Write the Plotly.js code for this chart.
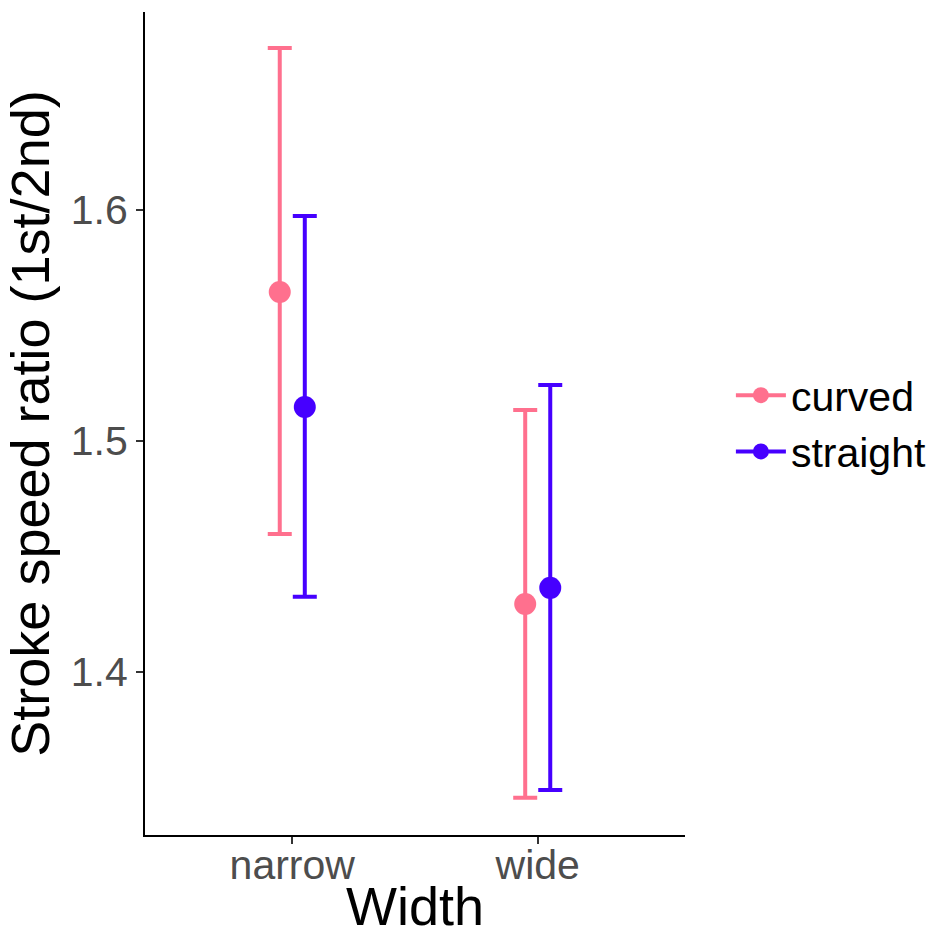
<!DOCTYPE html>
<html>
<head>
<meta charset="utf-8">
<script src="https://cdn.plot.ly/plotly-3.0.1.min.js"></script>
<style>html,body{margin:0;padding:0;background:#fff;}#chart{width:936px;height:936px;}</style>
</head>
<body>
<div id="chart"></div>
<script>
const categories = ["narrow", "wide"];
const groups = ["curved", "straight"];
const curvedMean = [1.5645, 1.4294];
const curvedUpper = [1.6701, 1.5134];
const curvedLower = [1.4597, 1.3455];
const straightMean = [1.5147, 1.4364];
const straightUpper = [1.5974, 1.5242];
const straightLower = [1.4325, 1.3489];
const colors = ["#FF708E", "#4600FF"];
const dodge = [-0.051, 0.051];

const series = [
  {mean: curvedMean, upper: curvedUpper, lower: curvedLower},
  {mean: straightMean, upper: straightUpper, lower: straightLower}
];

const traces = [];
series.forEach((s, i) => {
  traces.push({
    type: "scatter", mode: "markers",
    x: categories.map((c, j) => j + dodge[i]),
    y: s.mean,
    marker: {color: colors[i], size: 22},
    error_y: {
      type: "data", symmetric: false,
      array: s.upper.map((u, j) => u - s.mean[j]),
      arrayminus: s.mean.map((m, j) => m - s.lower[j]),
      color: colors[i], thickness: 4, width: 12
    },
    showlegend: false, hoverinfo: "skip"
  });
});
groups.forEach((g, i) => {
  traces.push({
    type: "scatter", mode: "lines+markers", name: g,
    x: [null], y: [null],
    marker: {color: colors[i], size: 22},
    line: {color: colors[i], width: 4}
  });
});

const layout = {
  width: 936, height: 936,
  margin: {l: 145, r: 251, t: 12, b: 101, autoexpand: false},
  paper_bgcolor: "#fff", plot_bgcolor: "#fff",
  font: {family: "Liberation Sans, Arial, sans-serif"},
  xaxis: {
    range: [-0.6, 1.6],
    tickmode: "array", tickvals: [0, 1], ticktext: categories,
    showgrid: false, zeroline: false,
    showline: true, linecolor: "#000", linewidth: 2,
    ticks: "outside", ticklen: 7, tickwidth: 2, tickcolor: "#333",
    tickfont: {size: 41, color: "#4D4D4D"},
    ticklabelstandoff: -14,
    title: {text: "Width", font: {size: 54, color: "#000"}, standoff: 8}
  },
  yaxis: {
    range: [1.3294, 1.6857],
    tickmode: "array", tickvals: [1.4, 1.5, 1.6], ticktext: ["1.4", "1.5", "1.6"],
    showgrid: false, zeroline: false,
    showline: true, linecolor: "#000", linewidth: 2,
    ticks: "outside", ticklen: 7, tickwidth: 2, tickcolor: "#333",
    tickfont: {size: 41, color: "#4D4D4D"},
    title: {text: "Stroke speed ratio (1st/2nd)", font: {size: 54, color: "#000"}, standoff: 8}
  },
  legend: {
    x: 1.085, y: 0.5, xanchor: "left", yanchor: "middle",
    font: {size: 41, color: "#000"},
    bgcolor: "rgba(0,0,0,0)", itemwidth: 50, tracegroupgap: 0
  }
};

Plotly.newPlot("chart", traces, layout, {displayModeBar: false, staticPlot: true});
</script>
</body>
</html>
